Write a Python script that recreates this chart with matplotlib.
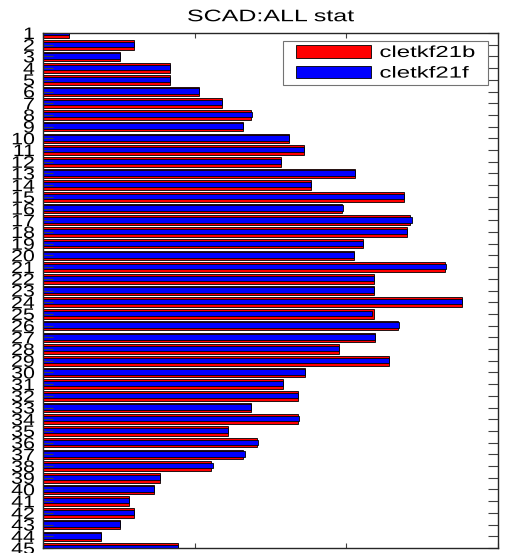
import matplotlib
matplotlib.use("Agg")
import matplotlib.pyplot as plt
import matplotlib.patches as mpatches
from matplotlib.legend_handler import HandlerPatch
from matplotlib.patheffects import AbstractPathEffect
from matplotlib.transforms import Affine2D
import numpy as np

plt.rcParams["font.family"] = ["Liberation Sans", "DejaVu Sans"]

# SCAD statistics per item, two runs
items = list(range(1, 46))
cletkf21b = [17, 60, 51, 84, 84, 103, 118, 137, 132, 162,
             172, 157, 206, 177, 238, 197, 242, 240, 211, 205,
             265, 218, 218, 276, 218, 234, 219, 195, 228, 173,
             158, 168, 137, 168, 122, 141, 132, 111, 77, 73,
             57, 60, 51, 38, 89]
cletkf21f = [17, 60, 51, 84, 84, 103, 118, 138, 132, 162,
             172, 157, 206, 177, 238, 197.5, 243.5, 240, 211, 205,
             266, 218, 218, 276.5, 217, 234.5, 219, 195, 228, 173,
             158, 168, 137, 168.5, 122, 142, 133, 112, 77, 73,
             57, 60, 51, 38, 89]
series_names = ["cletkf21b", "cletkf21f"]


class Stretch(AbstractPathEffect):
    """Draw text glyphs widened along x around a chosen anchor."""

    def __init__(self, sx, anchor="left"):
        super().__init__()
        self.sx = sx
        self.anchor = anchor

    def draw_path(self, renderer, gc, tpath, affine, rgbFace=None):
        ext = tpath.get_extents()
        x0 = {"left": 0.0, "center": (ext.x0 + ext.x1) / 2, "right": ext.x1}[self.anchor]
        widen = Affine2D().translate(-x0, 0).scale(self.sx, 1).translate(x0, 0)
        renderer.draw_path(gc, tpath, widen + affine, rgbFace)


fig = plt.figure(figsize=(5.19, 5.53), dpi=100)
ax = fig.add_axes([0.0829, 0.0090, 0.8767, 0.9313])

y = np.array(items)
ax.barh(y, cletkf21b, height=0.82, color="red", edgecolor="black", linewidth=0.6)
ax.barh(y - 0.04, cletkf21f, height=0.46, color="blue", edgecolor="black", linewidth=0.6)

ax.set_xlim(0, 300)
ax.set_ylim(45, 1)
ax.set_xticks([0, 100, 200, 300])
ax.set_yticks(items)
ax.set_yticklabels([str(i) for i in items])
ax.tick_params(axis="x", direction="in", length=3.5, top=True, labelbottom=False, color="0.25")
ax.tick_params(axis="y", direction="in", length=7, right=True, labelsize=12, pad=6, color="0.25")
for sp in ax.spines.values():
    sp.set_linewidth(1.0)
    sp.set_color("0.15")

for lbl in ax.get_yticklabels():
    lbl.set_path_effects([Stretch(1.28, "right")])

t = ax.set_title("SCAD:ALL stat", fontsize=12, pad=8.5)
t.set_path_effects([Stretch(1.5, "center")])

handles = [mpatches.Patch(facecolor="red", edgecolor="black", linewidth=0.6),
           mpatches.Patch(facecolor="blue", edgecolor="black", linewidth=0.6)]
leg = ax.legend(handles, series_names, loc="upper left",
                bbox_to_anchor=(0.527, 0.899, 0.451, 0.0855), mode="expand",
                borderaxespad=0, fontsize=11.5, handlelength=5.3, handleheight=0.8,
                handletextpad=0.5, labelspacing=0.35, borderpad=0.25,
                fancybox=False, framealpha=1,
                handler_map={mpatches.Patch: HandlerPatch(xpad=0.6)})
leg.get_frame().set_edgecolor("0.45")
leg.get_frame().set_linewidth(0.8)
for txt in leg.get_texts():
    txt.set_path_effects([Stretch(1.5, "left")])

fig.savefig("out.png", dpi=100)
